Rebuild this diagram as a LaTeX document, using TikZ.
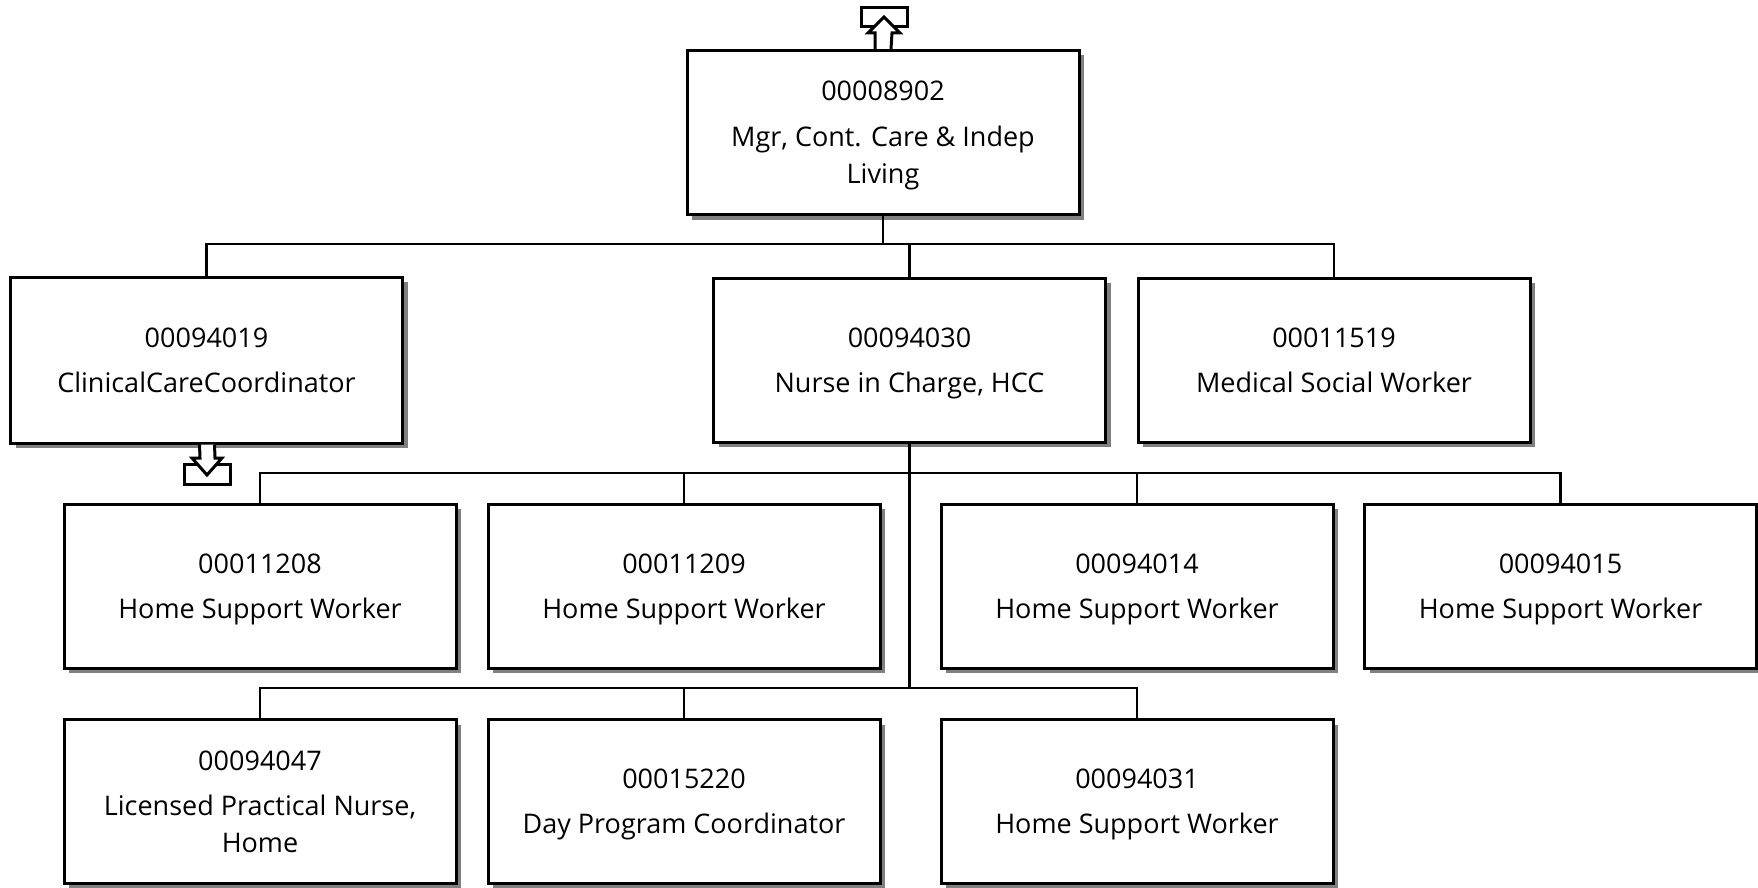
\documentclass[tikz,border=0pt]{standalone}
\usepackage{fontspec}
\setmainfont{Open Sans}
\usetikzlibrary{shadows}
\newcommand\lstrut{\rule[-7pt]{0pt}{33.3pt}}
\tikzset{
  posbox/.style={draw=black, line width=3pt, fill=white, minimum width=392pt, minimum height=164pt,
    align=center, inner sep=0pt, font=\fontsize{27}{37}\selectfont,
    drop shadow={shadow xshift=5pt, shadow yshift=-5pt, fill=black!50, opacity=1}},
  link/.style={line width=2.6pt},
  marker/.style={line width=3pt, fill=white, line join=miter}
}
\begin{document}
\begin{tikzpicture}[x=1pt,y=-1pt]
\useasboundingbox (0,0) rectangle (1758,888);
\node[posbox] (top) at (883,132.5) {\lstrut 00008902\\[9pt]\lstrut Mgr, Cont. Care \& Indep\\\lstrut Living};
\node[posbox, minimum height=166pt] (ccc) at (206.5,360) {\lstrut 00094019\\[8pt]\lstrut ClinicalCareCoordinator};
\node[posbox] (nic) at (909.5,360) {\lstrut 00094030\\[8pt]\lstrut Nurse in Charge, HCC};
\node[posbox] (msw) at (1334,360) {\lstrut 00011519\\[8pt]\lstrut Medical Social Worker};
\node[posbox] (h1) at (260,586) {\lstrut 00011208\\[8pt]\lstrut Home Support Worker};
\node[posbox] (h2) at (684,586) {\lstrut 00011209\\[8pt]\lstrut Home Support Worker};
\node[posbox] (h3) at (1137,586) {\lstrut 00094014\\[8pt]\lstrut Home Support Worker};
\node[posbox] (h4) at (1560.5,586) {\lstrut 00094015\\[8pt]\lstrut Home Support Worker};
\node[posbox] (l1) at (260,801.5) {\lstrut 00094047\\[8pt]\lstrut Licensed Practical Nurse,\\\lstrut Home};
\node[posbox] (l2) at (684,801.5) {\lstrut 00015220\\[8pt]\lstrut Day Program Coordinator};
\node[posbox] (l3) at (1137,801.5) {\lstrut 00094031\\[8pt]\lstrut Home Support Worker};
\coordinate (b1) at (883,244);
\coordinate (b3) at (909.5,473);
\coordinate (b4) at (909.5,688);
\draw[link] (top.south) -- (b1);
\draw[link] (ccc.north) |- (b1) -| (msw.north);
\draw[link] (nic.north) -- (nic.north |- b1);
\draw[link] (nic.south) -- (b4);
\draw[link] (h1.north) |- (b3) -| (h4.north);
\draw[link] (h2.north) -- (h2.north |- b3);
\draw[link] (h3.north) -- (h3.north |- b3);
\draw[link] (l1.north) |- (b4) -| (l3.north);
\draw[link] (l2.north) -- (l2.north |- b4);
% up marker above top box
\draw[marker] (861,8) rectangle (907,27);
\draw[marker] (top.north) ++(-8,0) -- (875,33) -- (868,33) -- (884,17) -- (900,33) -- (892,33) -- ([xshift=8pt]top.north);
% down marker below ccc box
\draw[marker] (184,464) rectangle (230,484);
\draw[marker] (ccc.south) ++(-7,0) -- (200,458) -- (192,458) -- (207,475) -- (222,458) -- (215,458) -- ([xshift=8pt]ccc.south);
\end{tikzpicture}
\end{document}
